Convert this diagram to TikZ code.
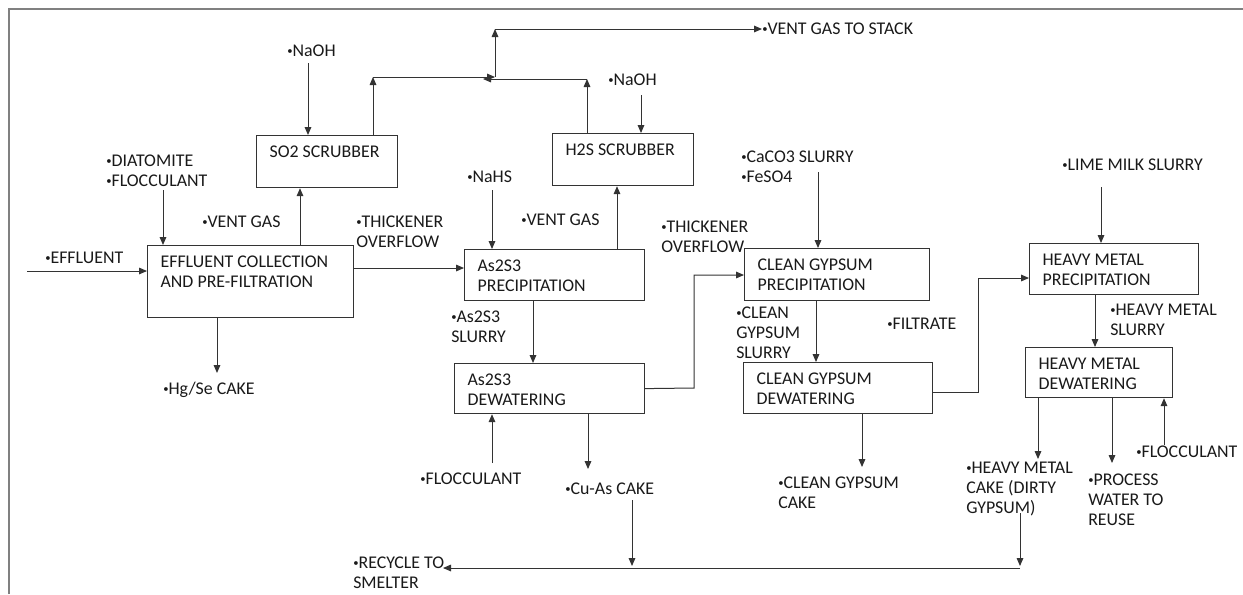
\documentclass[tikz,border=0pt]{standalone}
\usepackage{fontspec}
\setmainfont{Carlito}
\usetikzlibrary{arrows.meta}
\newcommand\dgfont{\fontsize{13.4}{15}\selectfont}
\newcommand\bul{\raisebox{1.6pt}{\fontsize{8}{8}\selectfont •}}
\begin{document}
\begin{tikzpicture}[x=0.75pt,y=-0.75pt,
  ln/.style={draw=black!80, line width=0.75pt},
  arr/.style={ln, -{Triangle[length=6pt,width=5pt]}},
  frame/.style={draw=black!50, line width=1.6pt},
  pbox/.style 2 args={draw=black!80, line width=0.9pt, minimum width=#1*0.75pt, minimum height=#2*0.75pt, anchor=north west, inner sep=0pt},
  boxtext/.style={anchor=north west, inner sep=0pt, align=left, text=black!90, font=\dgfont, xshift=10pt, yshift=-8.25pt},
  lbl/.style={anchor=north west, inner sep=0pt, align=left, text=black!90, font=\dgfont}]
\useasboundingbox (0,0) rectangle (1243,594);
\draw[frame] (9,594) -- (9,9) -- (1243,9);

% boxes
\node[pbox={141}{52}, label={[boxtext]north west:SO2 SCRUBBER}] (so2) at (256,135) {};
\node[pbox={141}{52}, label={[boxtext]north west:H2S SCRUBBER}] (h2s) at (552,133) {};
\node[pbox={206}{72}, label={[boxtext]north west:EFFLUENT COLLECTION\\AND PRE-FILTRATION}] (eff) at (147,245) {};
\node[pbox={180}{51}, label={[boxtext]north west:As2S3\\PRECIPITATION}] (asp) at (464,249) {};
\node[pbox={190}{50}, label={[boxtext]north west:As2S3\\DEWATERING}] (asd) at (454,363) {};
\node[pbox={185}{52}, label={[boxtext]north west:CLEAN GYPSUM\\PRECIPITATION}] (cgp) at (744,248) {};
\node[pbox={189}{51}, label={[boxtext]north west:CLEAN GYPSUM\\DEWATERING}] (cgd) at (743,362) {};
\node[pbox={169}{51}, label={[boxtext]north west:HEAVY METAL\\PRECIPITATION}] (hmp) at (1029,243) {};
\node[pbox={147}{50}, label={[boxtext]north west:HEAVY METAL\\DEWATERING}] (hmd) at (1025,347) {};

% labels
\node[lbl] (naoh1) at (287,45) {\bul NaOH};
\node[lbl] (vgstack) at (762,23) {\bul VENT GAS TO STACK};
\node[lbl] (naoh2) at (608,74) {\bul NaOH};
\node[lbl] (diat) at (106,155) {\bul DIATOMITE\\\bul FLOCCULANT};
\node[lbl] (vg1) at (202,216) {\bul VENT GAS};
\node[lbl] (thick1) at (356,216) {\bul THICKENER\\OVERFLOW};
\node[lbl] (effl) at (45,252) {\bul EFFLUENT};
\node[lbl] (hgse) at (163,382) {\bul Hg/Se CAKE};
\node[lbl] (nahs) at (467,171) {\bul NaHS};
\node[lbl] (vg2) at (521,214) {\bul VENT GAS};
\node[lbl] (thick2) at (661,221) {\bul THICKENER\\OVERFLOW};
\node[lbl] (asslurry) at (451,311) {\bul As2S3\\SLURRY};
\node[lbl] (floc1) at (420,473) {\bul FLOCCULANT};
\node[lbl] (cuas) at (565,483) {\bul Cu-As CAKE};
\node[lbl] (recycle) at (353,557) {\bul RECYCLE TO\\SMELTER};
\node[lbl] (caco3) at (741,151) {\bul CaCO3 SLURRY\\\bul FeSO4};
\node[lbl] (cgslurry) at (736,307) {\bul CLEAN\\GYPSUM\\SLURRY};
\node[lbl] (filtrate) at (887,318) {\bul FILTRATE};
\node[lbl] (cgcake) at (778,477) {\bul CLEAN GYPSUM\\CAKE};
\node[lbl] (lime) at (1062,159) {\bul LIME MILK SLURRY};
\node[lbl] (hmslurry) at (1110,304) {\bul HEAVY METAL\\SLURRY};
\node[lbl] (hmcake) at (966,462) {\bul HEAVY METAL\\CAKE (DIRTY\\GYPSUM)};
\node[lbl] (pw) at (1088,474) {\bul PROCESS\\WATER TO\\REUSE};
\node[lbl] (floc2) at (1136,446) {\bul FLOCCULANT};

% free-end coordinates
\coordinate (effin) at (27,271);
\coordinate (diats) at (163,190);
\coordinate (hgend) at (217,373);
\coordinate (n1s) at (308,63);
\coordinate (j1) at (373,77);
\coordinate (jx) at (495,77);
\coordinate (j2) at (587,79);
\coordinate (j2e) at (483,79);
\coordinate (j3) at (495,29);
\coordinate (n2s) at (641,95);
\coordinate (nhs) at (492,190);
\coordinate (f1s) at (492,463);
\coordinate (cuend) at (588,469);
\coordinate (cu2) at (632,500);
\coordinate (rl) at (1020,568);
\coordinate (rlend) at (443,568);
\coordinate (cas) at (818,172);
\coordinate (cgce) at (862,467);
\coordinate (lms) at (1101,187);
\coordinate (hmce) at (1038,459);
\coordinate (pwe) at (1112,463);
\coordinate (f2s) at (1164,445);
\coordinate (dg) at (1020,513);

% connectors
\draw[arr] (effin) -- (eff.west |- effin);
\draw[arr] (diats) -- (diats |- eff.north);
\draw[arr] (eff.north -| 300,0) -- (so2.south -| 300,0);
\draw[arr] (eff.south -| hgend) -- (hgend);
\draw[arr] (eff.east |- 0,268) -- (asp.west |- 0,268);
\draw[arr] (n1s) -- (n1s |- so2.north);
\draw[arr] (so2.north -| j1) -- (j1);
\draw[arr] (j1) -- (jx);
\draw[arr] (h2s.north -| j2) -- (j2);
\draw[arr] (j2) -- (j2e);
\draw[arr] (jx) -- (j3);
\draw[arr] (j3) -- (vgstack.west |- j3);
\draw[arr] (n2s) -- (n2s |- h2s.north);
\draw[arr] (nhs) -- (nhs |- asp.north);
\draw[arr] (asp.north -| 617,0) -- (h2s.south -| 617,0);
\draw[arr] (asp.south -| 533,0) -- (asd.north -| 533,0);
\draw[arr] (asd.east) -- (694,388) |- (cgp.west |- 0,275);
\draw[arr] (f1s) -- (f1s |- asd.south);
\draw[arr] (asd.south -| cuend) -- (cuend);
\draw[arr] (rl) -- (rlend);
\draw[arr] (cu2) -- ([yshift=1.5pt]cu2 |- rl);
\draw[arr] (cas) -- (cas |- cgp.north);
\draw[arr] (cgp.south -| 816,0) -- (cgd.north -| 816,0);
\draw[arr] (cgd.east |- 0,392) -- (978,392) |- (hmp.west |- 0,278);
\draw[arr] (cgd.south -| cgce) -- (cgce);
\draw[arr] (lms) -- (lms |- hmp.north);
\draw[arr] (hmp.south -| 1095,0) -- (hmd.north -| 1095,0);
\draw[arr] (hmd.south -| hmce) -- (hmce);
\draw[arr] (hmd.south -| pwe) -- (pwe);
\draw[arr] (f2s) -- (f2s |- hmd.south);
\draw[arr] (dg) -- ([yshift=1.5pt]dg |- rl);
\end{tikzpicture}
\end{document}
